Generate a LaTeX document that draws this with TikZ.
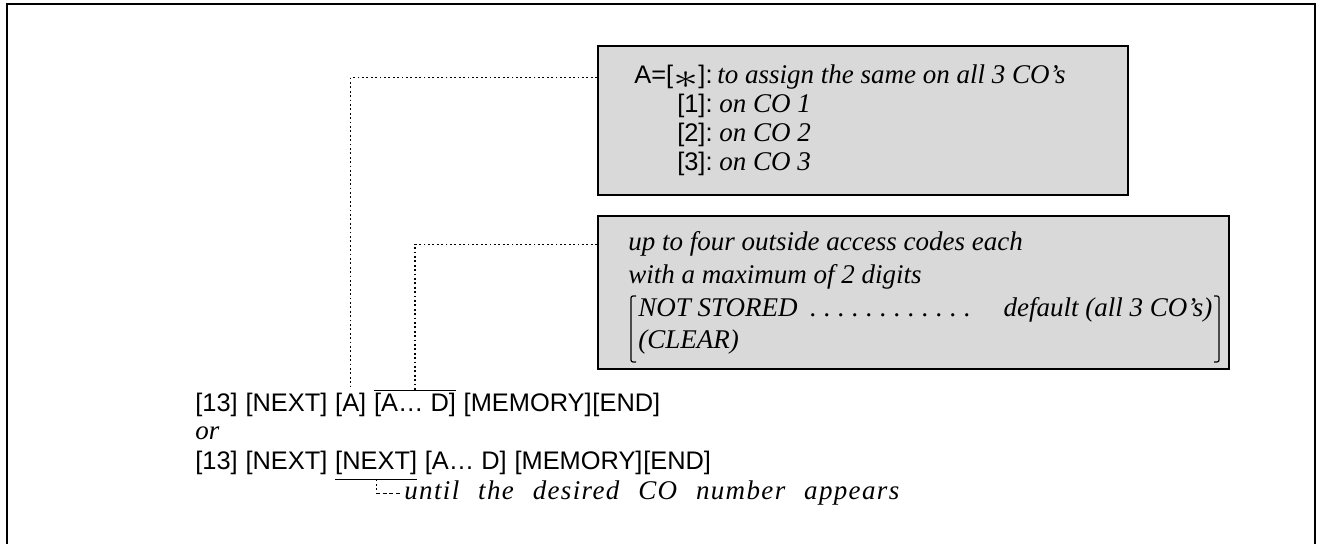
\documentclass[tikz,border=0pt]{standalone}
\usepackage{fontspec}
\setmainfont{Liberation Serif}
\setsansfont{Liberation Sans}
\usetikzlibrary{positioning}
\definecolor{boxG}{gray}{0.85}
\newcommand{\bigast}{\raisebox{-0.3ex}{\scalebox{2.1}[1.5]{$\ast$}}}
\tikzset{
  key/.style={inner sep=0pt,font=\sffamily\fontsize{12.7}{15}\selectfont},
  note/.style={inner sep=0pt,font=\fontsize{13.5}{16}\selectfont\itshape},
  notebox/.style={draw,line width=0.9pt,fill=boxG,inner sep=0pt,anchor=north west},
  conn/.style={line width=0.6pt,dash pattern=on 0.9pt off 1.3pt},
  lead/.style={line width=0.6pt,dash pattern=on 1.9pt off 1.4pt},
  brk/.style={line width=0.6pt,rounded corners=1pt}
}

\begin{document}
\begin{tikzpicture}[x=0.5pt,y=-0.5pt]
\useasboundingbox (0,0) rectangle (1321,544);
\draw[line width=0.8pt] (7,544)--(7,4)--(1315,4)--(1315,544);
% note boxes
\node[notebox,minimum width=265pt,minimum height=74.5pt] (assign) at (597,45) {};
\node[notebox,minimum width=315.5pt,minimum height=76.5pt] (codes) at (597,215) {};
% first box
\node[key,anchor=base east] (la) at (713,84) {A=[\bigast]:};
\node[key,anchor=base east] (l1) at (713,113) {[1]:};
\node[key,anchor=base east] (l2) at (713,142) {[2]:};
\node[key,anchor=base east] (l3) at (713,171) {[3]:};
\node[note,anchor=base west] (ta) at (717,84) {to assign the same on all 3 CO’s};
\node[note,anchor=base west] (t1) at (719,113) {on CO 1};
\node[note,anchor=base west] (t2) at (719,142) {on CO 2};
\node[note,anchor=base west] (t3) at (719,171) {on CO 3};
% second box
\node[note,anchor=base west] (up) at (628,251) {up to four outside access codes each};
\node[note,anchor=base west] (mx) at (628,284) {with a maximum of 2 digits};
\node[note,anchor=base west] (nst) at (638,317) {\hbox to 287pt{NOT STORED\ \leaders\hbox to 7pt{\hss.\hss}\hfill\quad default (all 3 CO’s)}};
\node[note,anchor=base west] (clr) at (638,349) {(CLEAR)};
\draw[brk] (636,296)--(631,296)--(631,362)--(636,362);
\draw[brk] (1214,296)--(1219,296)--(1219,362)--(1214,362);
% key sequences
\node[key,anchor=base west] (k13) at (195,412) {[13]};
\node[key,right=3.5pt of k13] (knx) {[NEXT]};
\node[key,right=3.5pt of knx] (ka) {[A]};
\node[key,right=3.5pt of ka] (kad) {[A\ldots{} D]};
\node[key,right=3.5pt of kad] (kmem) {[MEMORY]};
\node[key,right=0pt of kmem] (kend) {[END]};
\node[note,anchor=base west] (or) at (195,440) {or};
\node[key,anchor=base west] (k13b) at (195,470) {[13]};
\node[key,right=3.5pt of k13b] (knxb) {[NEXT]};
\node[key,right=3.5pt of knxb] (knxc) {[NEXT]};
\node[key,right=3.5pt of knxc] (kadb) {[A\ldots{} D]};
\node[key,right=3.5pt of kadb] (kmemb) {[MEMORY]};
\node[key,right=0pt of kmemb] (kendb) {[END]};
\node[note,anchor=base west] (until) at (404,500) {\addfontfeature{LetterSpace=5}\spaceskip=0.7em until the desired CO number appears};
\draw[line width=0.5pt] ([yshift=1.5pt]kad.north west) -- ([yshift=1.5pt]kad.north east);
\draw[line width=0.5pt] ([yshift=-2pt]knxc.south west) -- ([yshift=-2pt]knxc.south east);
% connectors
\draw[conn] (assign.west |- la) -| ([yshift=2.5pt]ka.north);
\draw[conn] (codes.west |- up) -| ([yshift=1.5pt]kad.north);
\coordinate (bend) at (knxc.south |- until.west);
\draw[conn] ([yshift=-2pt]knxc.south) -- (bend);
\draw[lead] (bend) -- ([xshift=-1pt]until.west);
\end{tikzpicture}
\end{document}
